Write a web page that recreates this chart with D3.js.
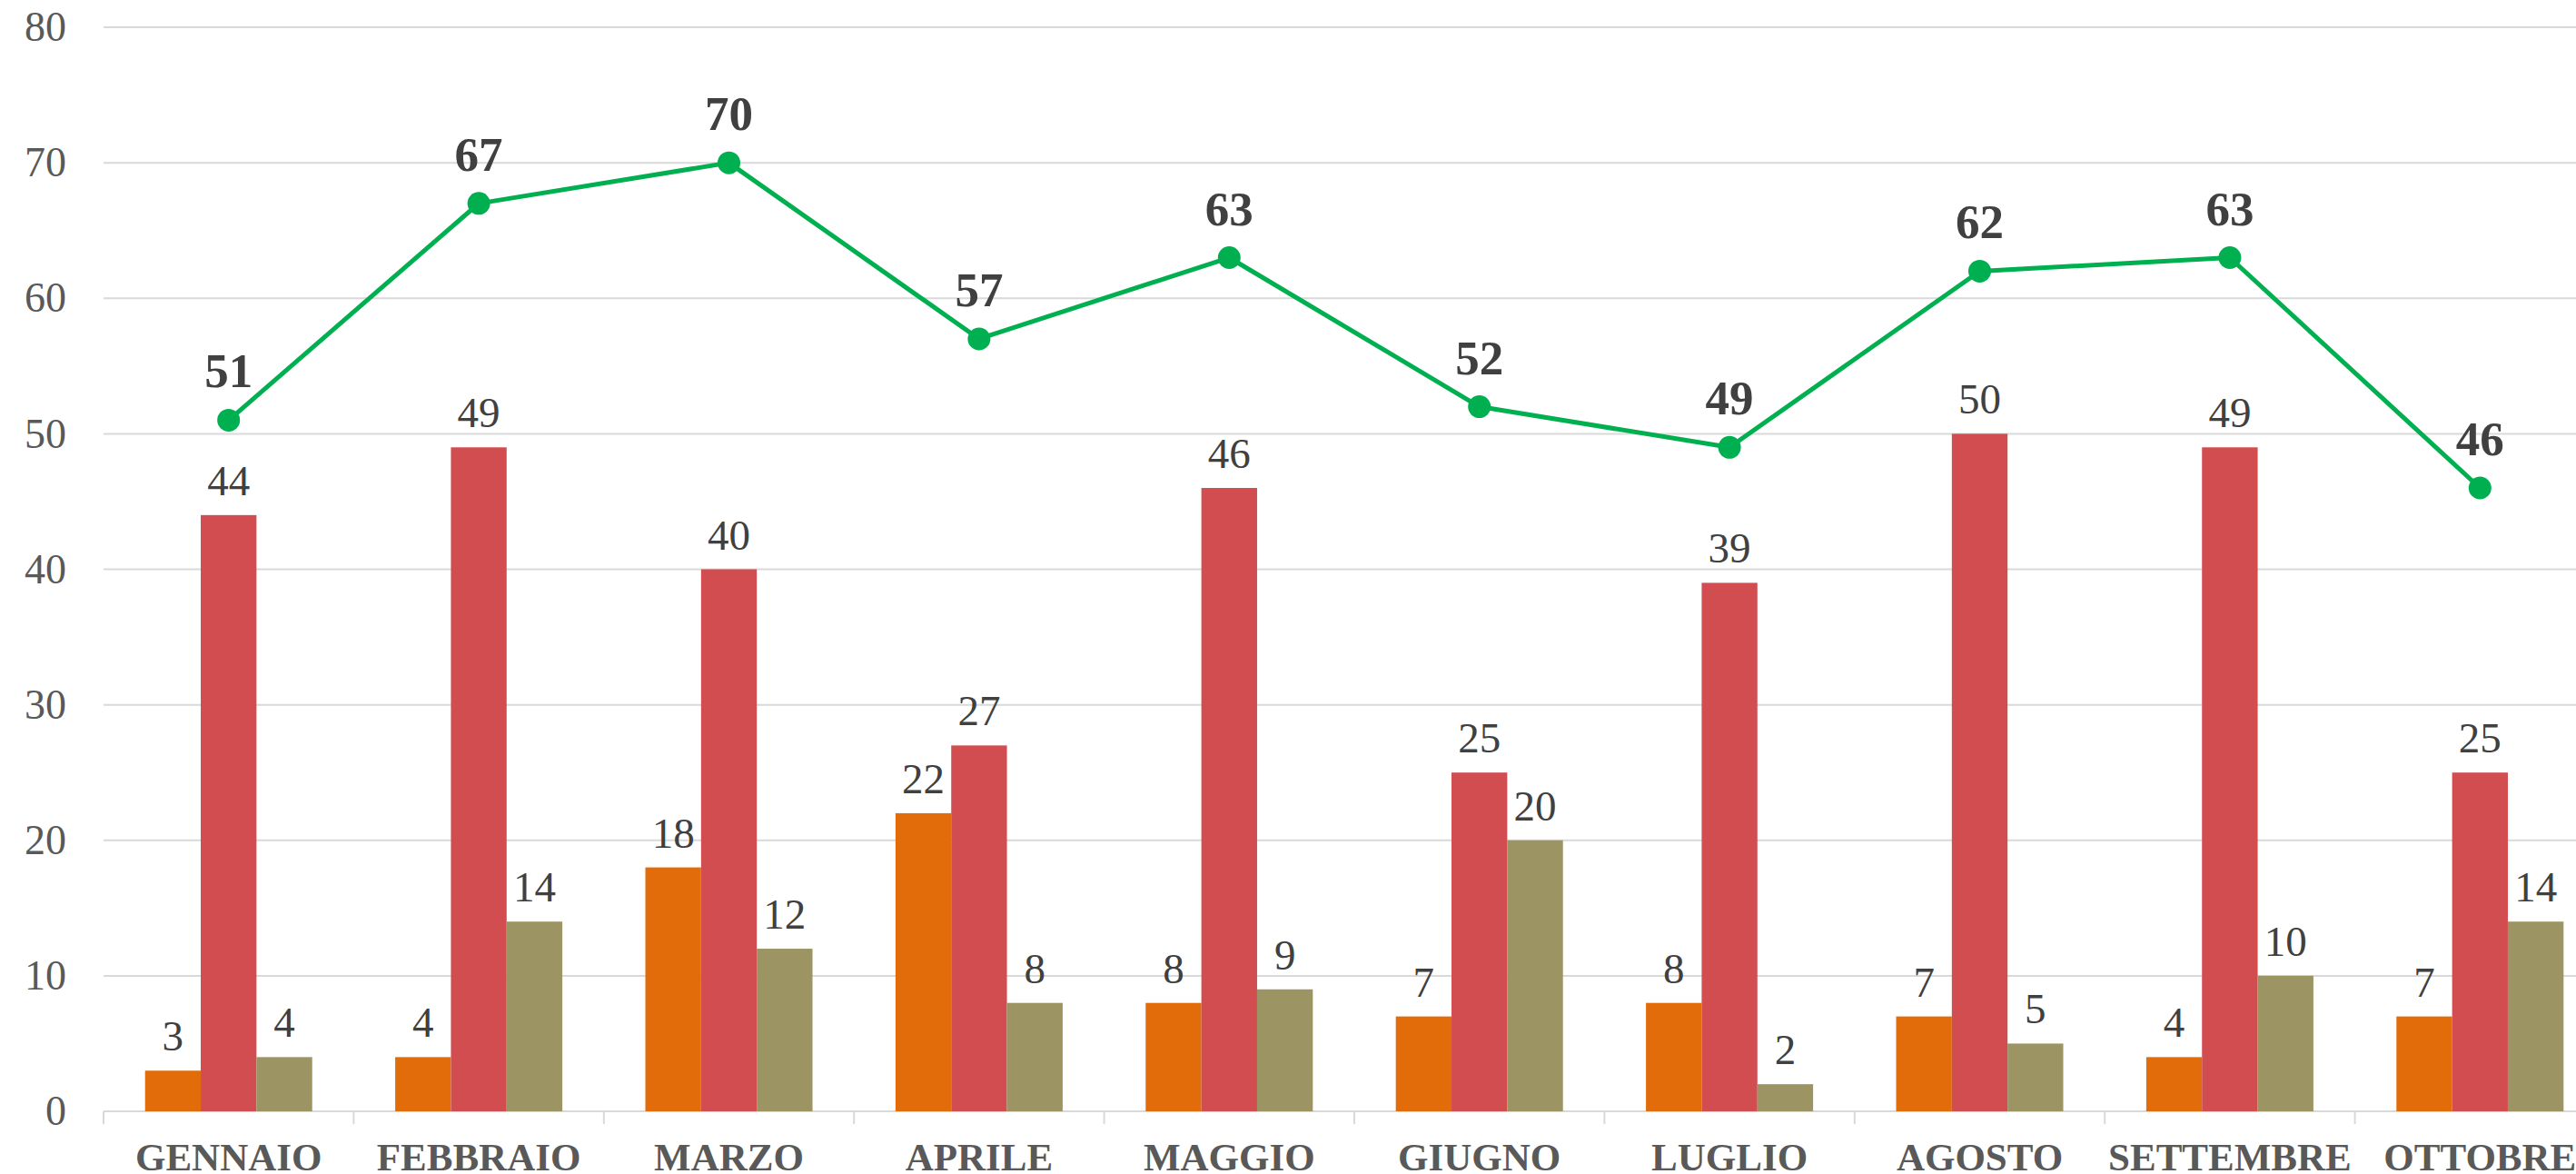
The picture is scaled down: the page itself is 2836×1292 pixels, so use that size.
<!DOCTYPE html>
<html>
<head>
<meta charset="utf-8">
<script src="https://cdn.jsdelivr.net/npm/d3@7"></script>
<style>
  body { margin: 0; background: #fff; }
  svg { display: block; font-family: "Liberation Serif", "Times New Roman", serif; }
</style>
</head>
<body>
<div id="box"></div>
<script>
// dati
const months = ['GENNAIO', 'FEBBRAIO', 'MARZO', 'APRILE', 'MAGGIO', 'GIUGNO', 'LUGLIO', 'AGOSTO', 'SETTEMBRE', 'OTTOBRE']
const serieA = [3, 4, 18, 22, 8, 7, 8, 7, 4, 7]        // arancio
const serieB = [44, 49, 40, 27, 46, 25, 39, 50, 49, 25] // rosso
const serieC = [4, 14, 12, 8, 9, 20, 2, 5, 10, 14]      // oliva
const totale = [51, 67, 70, 57, 63, 52, 49, 62, 63, 46] // linea verde
const yTicks = [0, 10, 20, 30, 40, 50, 60, 70, 80]

// canvas
const width = 2836
const height = 1292
const margin = {top: 30, right: -32, bottom: 69, left: 114}

const x = d3.scaleBand()
  .domain(months)
  .range([margin.left, width - margin.right])
  .paddingInner(0)
  .paddingOuter(0)

// barre dentro ogni categoria
const xSub = d3.scaleBand()
  .domain([0, 1, 2])
  .range([0, x.bandwidth()])
  .paddingOuter(0.745)

const y = d3.scaleLinear()
  .domain([0, 80])
  .range([height - margin.bottom, margin.top])

const colors = ['#E36C0A', '#D24D4F', '#9C9463']
const series = [serieA, serieB, serieC]

const svg = d3.select('#box')
  .append('svg')
  .attr('width', width)
  .attr('height', height)

// griglia
svg.append('g')
  .selectAll('line')
  .data(yTicks)
  .join('line')
  .attr('x1', margin.left)
  .attr('x2', width)
  .attr('y1', d => y(d))
  .attr('y2', d => y(d))
  .attr('stroke', '#D9D9D9')
  .attr('stroke-width', 2)

// asse y
const yAxis = svg.append('g')
  .attr('transform', `translate(${margin.left},0)`)
  .call(d3.axisLeft(y).tickValues(yTicks).tickSize(0).tickPadding(41))
yAxis.select('.domain').remove()
yAxis.selectAll('text')
  .attr('fill', '#595959')
  .style('font-size', '46px')
  .style('font-family', '"Liberation Serif", serif')

// asse x
const xAxis = svg.append('g')
  .attr('transform', `translate(0,${y(0)})`)
  .call(d3.axisBottom(x).tickSize(0).tickPadding(65))
xAxis.select('.domain').remove()
xAxis.selectAll('text')
  .attr('fill', '#595959')
  .attr('dy', '0')
  .style('font-size', '43px')
  .style('font-weight', 'bold')
  .style('font-family', '"Liberation Serif", serif')

// tacche tra le categorie
svg.append('g')
  .selectAll('line')
  .data(months)
  .join('line')
  .attr('x1', d => x(d))
  .attr('x2', d => x(d))
  .attr('y1', y(0))
  .attr('y2', y(0) + 14)
  .attr('stroke', '#D9D9D9')
  .attr('stroke-width', 2)

// barre
const groups = svg.append('g')
  .selectAll('g')
  .data(months)
  .join('g')
  .attr('transform', d => `translate(${x(d)},0)`)

groups.selectAll('rect')
  .data((m, i) => series.map((s, k) => ({k, v: s[i]})))
  .join('rect')
  .attr('x', d => xSub(d.k))
  .attr('y', d => y(d.v))
  .attr('width', xSub.bandwidth())
  .attr('height', d => y(0) - y(d.v))
  .attr('fill', d => colors[d.k])

groups.selectAll('text')
  .data((m, i) => series.map((s, k) => ({k, v: s[i]})))
  .join('text')
  .attr('x', d => xSub(d.k) + xSub.bandwidth() / 2)
  .attr('y', d => y(d.v) - 22)
  .attr('text-anchor', 'middle')
  .attr('fill', '#404040')
  .style('font-size', '47px')
  .text(d => d.v)

// linea
const cx = (d, i) => x(months[i]) + x.bandwidth() / 2
const line = d3.line()
  .x(cx)
  .y(d => y(d))

svg.append('path')
  .datum(totale)
  .attr('fill', 'none')
  .attr('stroke', '#00B050')
  .attr('stroke-width', 5)
  .attr('stroke-linejoin', 'round')
  .attr('d', line)

svg.append('g')
  .selectAll('circle')
  .data(totale)
  .join('circle')
  .attr('cx', cx)
  .attr('cy', d => y(d))
  .attr('r', 12.5)
  .attr('fill', '#00B050')

svg.append('g')
  .selectAll('text')
  .data(totale)
  .join('text')
  .attr('x', cx)
  .attr('y', d => y(d) - 36)
  .attr('text-anchor', 'middle')
  .attr('fill', '#404040')
  .style('font-size', '53px')
  .style('font-weight', 'bold')
  .text(d => d)
</script>
</body>
</html>
